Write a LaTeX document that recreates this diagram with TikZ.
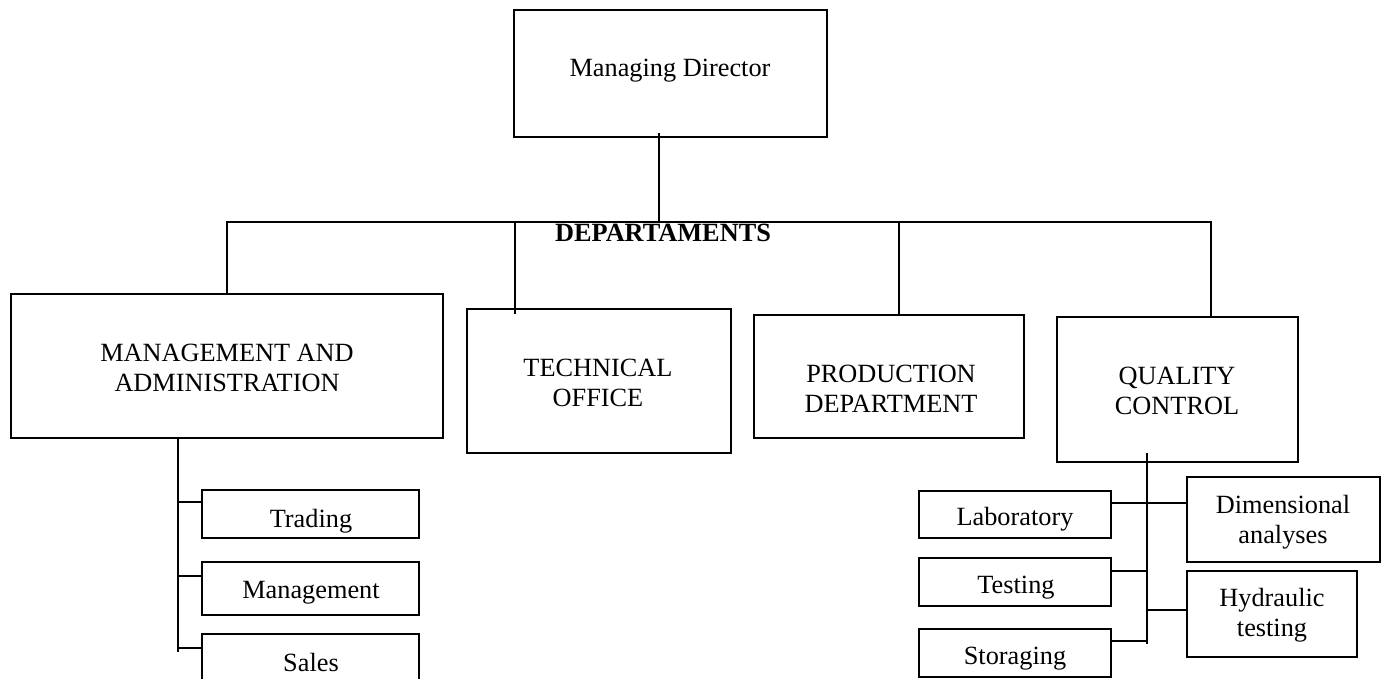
\documentclass[tikz,border=0pt]{standalone}
\usepackage{fontspec}
\setmainfont{Liberation Serif}
\usetikzlibrary{calc}
\begin{document}
\begin{tikzpicture}[x=1pt,y=-1pt,
  box/.style={draw, line width=1.8pt, inner sep=0pt, outer sep=0pt},
  lbl/.style={font=\fontsize{26.3}{30}\selectfont, inner sep=0pt, align=center},
  link/.style={line width=1.8pt}]
\useasboundingbox[fill=white] (0,0) rectangle (1384,679);

% top of the chart
\node[box, minimum width=313, minimum height=127] (md) at (670.5,73.5) {};
\node[lbl, anchor=base] (mdt) at (670,77) {Managing Director};

% departments
\node[box, minimum width=432, minimum height=144] (adm) at (227,366) {};
\node[lbl] (admt) at (227,367.5) {MANAGEMENT AND\\ADMINISTRATION};
\node[box, minimum width=264, minimum height=144] (tech) at (599,381) {};
\node[lbl] (techt) at (598,382.5) {TECHNICAL\\OFFICE};
\node[box, minimum width=270, minimum height=123] (prod) at (889,376.5) {};
\node[lbl] (prodt) at (891,388.5) {PRODUCTION\\DEPARTMENT};
\node[box, minimum width=241, minimum height=145] (qc) at (1177.5,389.5) {};
\node[lbl] (qct) at (1177,391) {QUALITY\\CONTROL};
\node[lbl, anchor=base, font=\fontsize{26.3}{30}\selectfont\bfseries] (dept) at (663,241) {DEPARTAMENTS};

% administration units
\node[box, minimum width=217, minimum height=48] (trade) at (310.5,514) {};
\node[lbl, anchor=base] (tradet) at (311,527) {Trading};
\node[box, minimum width=217, minimum height=53] (mgmt) at (310.5,588.5) {};
\node[lbl, anchor=base] (mgmtt) at (311,598) {Management};
\node[box, minimum width=217, minimum height=66] (sales) at (310.5,667) {};
\node[lbl, anchor=base] (salest) at (311,671) {Sales};

% quality control units
\node[box, minimum width=192, minimum height=47] (lab) at (1015,514.5) {};
\node[lbl, anchor=base] (labt) at (1015,525) {Laboratory};
\node[box, minimum width=192, minimum height=48] (test) at (1015,582) {};
\node[lbl, anchor=base] (testt) at (1016,593) {Testing};
\node[box, minimum width=192, minimum height=48] (stor) at (1015,653) {};
\node[lbl, anchor=base] (stort) at (1015,664) {Storaging};
\node[box, minimum width=193, minimum height=85] (dim) at (1283.5,519.5) {};
\node[lbl] (dimt) at (1283,521.8) {Dimensional\\analyses};
\node[box, minimum width=170, minimum height=86] (hyd) at (1272,614) {};
\node[lbl] (hydt) at (1272,615.3) {Hydraulic\\testing};

% bus below the managing director
\coordinate (b1) at (227,222);
\coordinate (b2) at (515,222);
\coordinate (b3) at (899,222);
\coordinate (b4) at (1211,222);
\coordinate (bm) at (659,222);
\draw[link] ($(md.south -| bm)+(0,-4)$) -- (bm);
\draw[link] (adm.north) -- (b1) -- (b4) -- (qc.north -| b4);
\draw[link] (b2) -- ($(tech.north -| b2)+(0,5)$);
\draw[link] (b3) -- (prod.north -| b3);

% administration branch
\coordinate (ls) at (178,652);
\coordinate (j1) at (178,502);
\coordinate (j2) at (178,576);
\coordinate (j3) at (178,648);
\draw[link] (adm.south -| ls) -- (ls);
\draw[link] (j1) -- (j1 -| trade.west);
\draw[link] (j2) -- (j2 -| mgmt.west);
\draw[link] (j3) -- (j3 -| sales.west);

% quality control branch
\coordinate (rs) at (1147,644);
\coordinate (k1) at (1147,503);
\coordinate (k2) at (1147,571);
\coordinate (k3) at (1147,610);
\coordinate (k4) at (1147,641);
\draw[link] ($(qc.south -| rs)+(0,-9)$) -- (rs);
\draw[link] (k1 -| lab.east) -- (k1 -| dim.west);
\draw[link] (k2 -| test.east) -- (k2);
\draw[link] (k3) -- (k3 -| hyd.west);
\draw[link] (k4 -| stor.east) -- (k4);
\end{tikzpicture}
\end{document}
